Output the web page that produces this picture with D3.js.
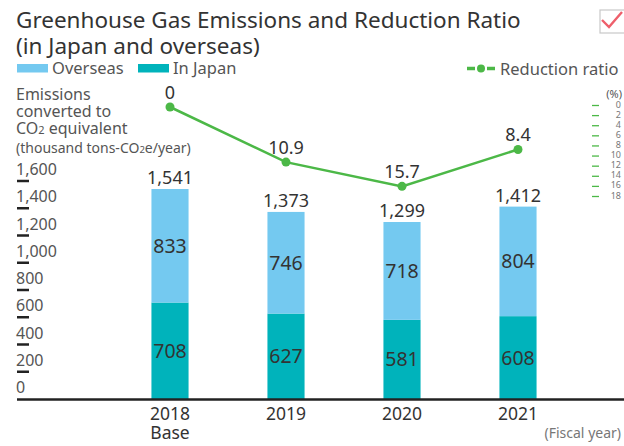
<!DOCTYPE html>
<html>
<head>
<meta charset="utf-8">
<script src="https://cdn.jsdelivr.net/npm/d3@7"></script>
<style>
  body { margin: 0; background: #fff; }
  svg text { font-family: "Noto Sans", "DejaVu Sans", sans-serif; }
</style>
</head>
<body>
<svg id="canvas"></svg>
<script>
// ########## Data ##########
years = ["2018", "2019", "2020", "2021"];
yearSub = ["Base", "", "", ""];
inJapan = [708, 627, 581, 608];
overseas = [833, 746, 718, 804];
totals = [1541, 1373, 1299, 1412];
reductionRatio = [0, 10.9, 15.7, 8.4];
ratioLabels = ["0", "10.9", "15.7", "8.4"];
leftTicks = [0, 200, 400, 600, 800, 1000, 1200, 1400, 1600];
rightTicks = [0, 2, 4, 6, 8, 10, 12, 14, 16, 18];

w = 624;
h = 446;

colOverseas = "#74c9f0";
colJapan = "#00b3bb";
colLine = "#4cb847";
colText = "#333333";
colAxis = "#555555";

svg = d3.select("#canvas").attr("width", w).attr("height", h);

// ########## Scales ##########
x = d3.scaleBand().domain(years).range([112, 576]).paddingInner(0.68).paddingOuter(0.34);
y = d3.scaleLinear().domain([0, 1600]).range([399, 181]);
yr = d3.scaleLinear().domain([0, 18]).range([107, 198]);

// ########## Title ##########
svg.append("text").attr("x", 16).attr("y", 28)
    .attr("font-size", 22.5).attr("fill", colText)
    .text("Greenhouse Gas Emissions and Reduction Ratio");
svg.append("text").attr("x", 16).attr("y", 54)
    .attr("font-size", 22.5).attr("fill", colText)
    .text("(in Japan and overseas)");

// checkbox icon
svg.append("rect").attr("x", 600).attr("y", 10).attr("width", 30).attr("height", 23)
    .attr("fill", "none").attr("stroke", "#c8c8c8").attr("stroke-width", 1.2);
svg.append("path").attr("d", "M602,20 L609,27 L622,12")
    .attr("fill", "none").attr("stroke", "#ee5f6b").attr("stroke-width", 2.4);

// ########## Legend ##########
legend = [{ name: "Overseas", color: colOverseas, x: 17 }, { name: "In Japan", color: colJapan, x: 138 }];
legend.forEach(function (d) {
    svg.append("rect").attr("x", d.x).attr("y", 64).attr("width", 31).attr("height", 8.5).attr("fill", d.color);
    svg.append("text").attr("x", d.x + 35).attr("y", 74).attr("font-size", 16.5).attr("fill", colAxis).text(d.name);
});
svg.append("line").attr("x1", 467).attr("x2", 495).attr("y1", 68.5).attr("y2", 68.5)
    .attr("stroke", colLine).attr("stroke-width", 3.5).attr("stroke-dasharray", "8,3,6,3,8");
svg.append("circle").attr("cx", 481).attr("cy", 68.5).attr("r", 4).attr("fill", colLine);
svg.append("text").attr("x", 500).attr("y", 75).attr("font-size", 16.5).attr("fill", colAxis).text("Reduction ratio");

// ########## Left axis title ##########
["Emissions", "converted to"].forEach(function (t, i) {
    svg.append("text").attr("x", 16).attr("y", 100 + i * 17).attr("font-size", 16).attr("fill", colAxis).text(t);
});
co2 = svg.append("text").attr("x", 16).attr("y", 134).attr("font-size", 16).attr("fill", colAxis);
co2.append("tspan").text("CO");
co2.append("tspan").attr("font-size", 11).text("2");
co2.append("tspan").text(" equivalent");
unit = svg.append("text").attr("x", 16).attr("y", 153).attr("font-size", 14).attr("fill", colAxis);
unit.append("tspan").text("(thousand tons-CO");
unit.append("tspan").attr("font-size", 9.5).text("2");
unit.append("tspan").text("e/year)");

// ########## Left axis ##########
leftAxis = svg.append("g").attr("class", "left-axis");
leftAxis.selectAll("text").data(leftTicks).enter().append("text")
    .attr("x", 16).attr("y", function (d) { return y(d) - 6; })
    .attr("font-size", 16).attr("fill", colAxis)
    .text(d3.format(","));
leftAxis.selectAll("line").data(leftTicks.filter(function (d) { return d > 0; })).enter().append("line")
    .attr("x1", 17).attr("x2", 29)
    .attr("y1", function (d) { return y(d); }).attr("y2", function (d) { return y(d); })
    .attr("stroke", "#222").attr("stroke-width", 2.5);

// ########## Right axis ##########
svg.append("text").attr("x", 622).attr("y", 98).attr("text-anchor", "end")
    .attr("font-size", 11).attr("fill", colAxis).text("(%)");
rightAxis = svg.append("g").attr("class", "right-axis");
rightAxis.selectAll("text").data(rightTicks).enter().append("text")
    .attr("x", 621).attr("y", function (d) { return yr(d) + 0.5; })
    .attr("text-anchor", "end").attr("font-size", 9).attr("fill", "#777")
    .text(function (d) { return d; });
rightAxis.selectAll("line").data(rightTicks).enter().append("line")
    .attr("x1", 592).attr("x2", 599)
    .attr("y1", function (d) { return yr(d) - 1.5; }).attr("y2", function (d) { return yr(d) - 1.5; })
    .attr("stroke", colLine).attr("stroke-width", 1.3);

// ########## Bars ##########
bars = svg.append("g").attr("class", "bars");
bars.selectAll("rect.japan").data(years).enter().append("rect").attr("class", "japan")
    .attr("x", function (d) { return x(d); }).attr("width", x.bandwidth())
    .attr("y", function (d, i) { return y(inJapan[i]); })
    .attr("height", function (d, i) { return y(0) - y(inJapan[i]); })
    .attr("fill", colJapan);
bars.selectAll("rect.overseas").data(years).enter().append("rect").attr("class", "overseas")
    .attr("x", function (d) { return x(d); }).attr("width", x.bandwidth())
    .attr("y", function (d, i) { return y(inJapan[i] + overseas[i]); })
    .attr("height", function (d, i) { return y(inJapan[i]) - y(inJapan[i] + overseas[i]); })
    .attr("fill", colOverseas);

// segment labels
bars.selectAll("text.japan").data(years).enter().append("text")
    .attr("x", function (d) { return x(d) + x.bandwidth() / 2; })
    .attr("y", function (d, i) { return y(inJapan[i] / 2) + 7; })
    .attr("text-anchor", "middle").attr("font-size", 19.5).attr("fill", colText)
    .text(function (d, i) { return inJapan[i]; });
bars.selectAll("text.overseas").data(years).enter().append("text")
    .attr("x", function (d) { return x(d) + x.bandwidth() / 2; })
    .attr("y", function (d, i) { return y(inJapan[i] + overseas[i] / 2) + 7; })
    .attr("text-anchor", "middle").attr("font-size", 19.5).attr("fill", colText)
    .text(function (d, i) { return overseas[i]; });
bars.selectAll("text.total").data(years).enter().append("text")
    .attr("x", function (d) { return x(d) + x.bandwidth() / 2; })
    .attr("y", function (d, i) { return y(totals[i]) - 5; })
    .attr("text-anchor", "middle").attr("font-size", 18).attr("fill", colText)
    .text(function (d, i) { return d3.format(",")(totals[i]); });

// baseline
svg.append("line").attr("x1", 17).attr("x2", 624).attr("y1", 399.5).attr("y2", 399.5)
    .attr("stroke", "#222").attr("stroke-width", 2.5);

// ########## X labels ##########
svg.selectAll("text.year").data(years).enter().append("text")
    .attr("x", function (d) { return x(d) + x.bandwidth() / 2; }).attr("y", 420)
    .attr("text-anchor", "middle").attr("font-size", 17.5).attr("fill", colText).text(function (d) { return d; });
svg.selectAll("text.sub").data(yearSub).enter().append("text")
    .attr("x", function (d, i) { return x(years[i]) + x.bandwidth() / 2; }).attr("y", 439)
    .attr("text-anchor", "middle").attr("font-size", 17.5).attr("fill", colText).text(function (d) { return d; });
svg.append("text").attr("x", 621).attr("y", 438).attr("text-anchor", "end")
    .attr("font-size", 14).attr("fill", "#777").text("(Fiscal year)");

// ########## Reduction ratio line ##########
line = d3.line()
    .x(function (d, i) { return x(years[i]) + x.bandwidth() / 2; })
    .y(function (d) { return yr(d); });
svg.append("path").datum(reductionRatio).attr("d", line)
    .attr("fill", "none").attr("stroke", colLine).attr("stroke-width", 2.5);
svg.selectAll("circle.pt").data(reductionRatio).enter().append("circle")
    .attr("cx", function (d, i) { return x(years[i]) + x.bandwidth() / 2; })
    .attr("cy", function (d) { return yr(d); })
    .attr("r", 4.5).attr("fill", colLine);
svg.selectAll("text.ratio").data(reductionRatio).enter().append("text")
    .attr("x", function (d, i) { return x(years[i]) + x.bandwidth() / 2; })
    .attr("y", function (d) { return yr(d) - 8; })
    .attr("text-anchor", "middle").attr("font-size", 18).attr("fill", colText)
    .text(function (d, i) { return ratioLabels[i]; });
</script>
</body>
</html>
